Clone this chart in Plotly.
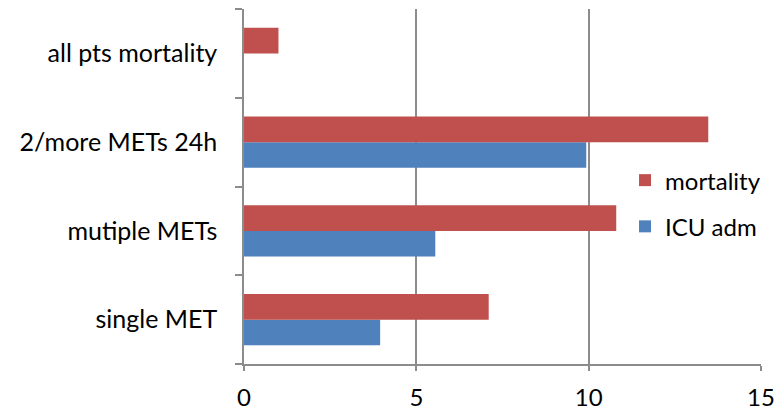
import plotly.graph_objects as go

categories = ["single MET", "mutiple METs", "2/more METs 24h", "all pts mortality"]
mortality = [7.1, 10.8, 13.47, 1.0]
icu_adm = [3.95, 5.55, 9.93, None]
x_ticks = [0, 5, 10, 15]

RED = "#C0504D"
BLUE = "#4F81BD"
GRID = "#8C8C8C"
FONT = "Lato"

fig = go.Figure()
fig.add_trace(go.Bar(y=categories, x=icu_adm, orientation="h", name="ICU adm",
                     legendgroup="b", legendrank=2,
                     marker=dict(color=BLUE, line=dict(width=0))))
fig.add_trace(go.Bar(y=categories, x=mortality, orientation="h", name="mortality",
                     legendgroup="a", legendrank=1,
                     marker=dict(color=RED, line=dict(width=0))))

fig.update_layout(
    width=780, height=410,
    margin=dict(l=244, r=19, t=9, b=46),
    barmode="group", bargap=0.425, bargroupgap=0,
    plot_bgcolor="white", paper_bgcolor="white",
    font=dict(family=FONT, size=25, color="#000000"),
    legend=dict(x=0.737, y=0.452, xanchor="left", yanchor="middle",
                bgcolor="rgba(0,0,0,0)", font=dict(size=24), itemwidth=30,
                tracegroupgap=12),
    xaxis=dict(range=[0, 15], tickvals=x_ticks, showgrid=True, gridcolor=GRID,
               gridwidth=1.5, showline=True, linecolor=GRID, linewidth=1.5,
               ticks="outside", ticklen=5, tickcolor=GRID, tickwidth=1.5, zeroline=False,
               tickfont=dict(size=24), ticklabelstandoff=6,
               automargin=False, fixedrange=True),
    yaxis=dict(type="category", categoryorder="array", categoryarray=categories,
               range=[-0.5, 3.5], showline=True, linecolor=GRID, linewidth=1.5,
               ticks="outside", ticklen=7, tickcolor=GRID, tickwidth=1.5,
               tickson="boundaries",
               showgrid=False, tickfont=dict(size=25), ticklabelstandoff=20,
               automargin=False, fixedrange=True),
)

fig.write_html("out.html", config={"displayModeBar": False},
               post_script="document.body.style.margin='0';")
